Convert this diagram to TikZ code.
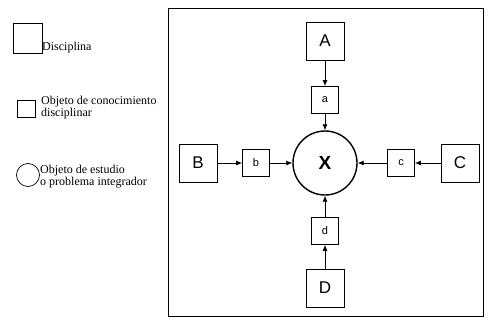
\documentclass[tikz,border=0pt]{standalone}
\usepackage{fontspec}
\setmainfont{Liberation Serif}
\setsansfont{Liberation Sans}
\usepackage{tikz}
\usetikzlibrary{arrows.meta}

\begin{document}
\begin{tikzpicture}[x=1pt,y=-1pt,
	disc/.style={draw,line width=0.8pt,minimum size=38pt,inner sep=0pt,font=\sffamily\fontsize{17}{17}\selectfont},
	obj/.style={draw,line width=0.7pt,minimum size=27pt,inner sep=0pt,font=\sffamily\fontsize{11}{11}\selectfont},
	prob/.style={draw,circle,line width=1.4pt,minimum size=64pt,inner sep=0pt,font=\sffamily\bfseries\fontsize{19}{19}\selectfont},
	legtext/.style={align=left,inner sep=0pt,font=\fontsize{12}{12}\selectfont},
	flow/.style={-{Latex[length=6pt,width=5pt]},line width=0.8pt}]
\useasboundingbox (0,0) rectangle (495,324);
% legend
\node[draw,line width=0.7pt,minimum width=29pt,minimum height=30pt,inner sep=0pt] (legdisc) at (27.5,38) {};
\node[legtext,anchor=base west] (legdisctext) at (42,50) {Disciplina};
\node[draw,line width=0.7pt,minimum width=18pt,minimum height=17pt,inner sep=0pt] (legobj) at (26,108.5) {};
\node[legtext,anchor=north west] (legobjtext) at (41,96) {Objeto de conocimiento\\disciplinar};
\node[draw,circle,line width=0.7pt,minimum size=23pt,inner sep=0pt] (legprob) at (28,175) {};
\node[legtext,anchor=north west] (legprobtext) at (40,165) {Objeto de estudio\\o problema integrador};
% frame
\draw[line width=0.8pt] (168,8) rectangle (483,316);
% diagram
\node[prob] (X) at (325,163) {X};
\node[disc] (A) at (325,41) {A};
\node[obj] (a) at (325,100) {a};
\node[disc] (B) at (198,163) {B};
\node[obj] (b) at (256,163) {b};
\node[obj] (c) at (401,163) {c};
\node[disc] (C) at (460,163) {C};
\node[obj] (d) at (325,231) {d};
\node[disc] (D) at (325,288) {D};
\draw[flow] (A) -- (a);
\draw[flow] (a) -- (X);
\draw[flow] (B) -- (b);
\draw[flow] (b) -- (X);
\draw[flow] (C) -- (c);
\draw[flow] (c) -- (X);
\draw[flow] (D) -- (d);
\draw[flow] (d) -- (X);
\end{tikzpicture}
\end{document}
